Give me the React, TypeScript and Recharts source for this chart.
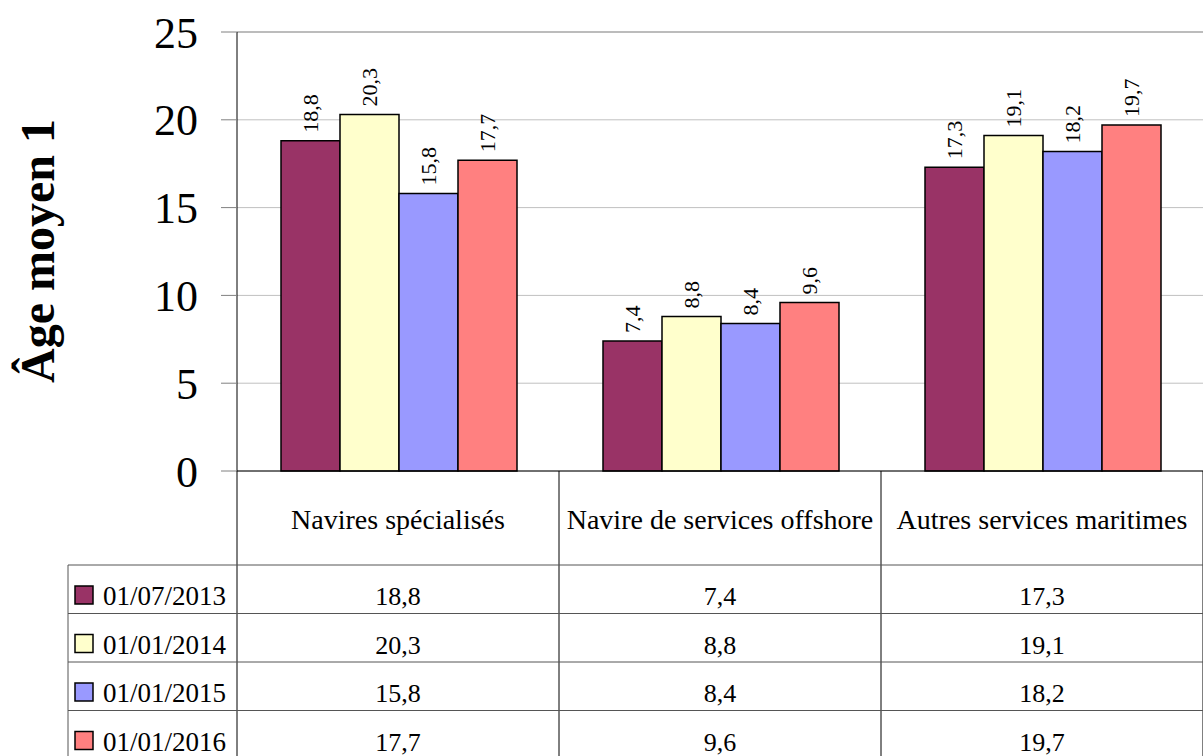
import { BarChart, Bar, XAxis, YAxis, CartesianGrid, ReferenceLine } from "recharts";

const categories = ["Navires spécialisés", "Navire de services offshore", "Autres services maritimes"];
const seriesNames = ["01/07/2013", "01/01/2014", "01/01/2015", "01/01/2016"];
const values2013 = [18.8, 7.4, 17.3];
const values2014 = [20.3, 8.8, 19.1];
const values2015 = [15.8, 8.4, 18.2];
const values2016 = [17.7, 9.6, 19.7];
const yTicks = [0, 5, 10, 15, 20, 25];
const yTitle = "Âge moyen 1";

const seriesValues = [values2013, values2014, values2015, values2016];
const colors = ["#993366", "#FFFFCC", "#9999FF", "#FF8080"];
const keys = ["s0", "s1", "s2", "s3"];

const data = categories.map((name, i) => ({
  name,
  s0: values2013[i],
  s1: values2014[i],
  s2: values2015[i],
  s3: values2016[i],
}));

const SERIF = "'Liberation Serif', 'Times New Roman', serif";
const fmt = (v: number) => v.toFixed(1).replace(".", ",");

// table layout under the plot (x axis band = 322px)
const W = 1203;
const H = 756;
const AXIS_Y = 471;
const HALF = 161;
const HEADER_BOTTOM = 565;
const ROW_H = 48.5;
const LEGEND_LEFT = 68;

function renderBarLabel(props: any) {
  const { x, y, width, value } = props;
  const cx = x + width / 2;
  const ty = y - 8;
  return (
    <text
      x={cx}
      y={ty}
      transform={`rotate(-90 ${cx} ${ty})`}
      textAnchor="start"
      dominantBaseline="central"
      fontFamily={SERIF}
      fontSize={22}
      fill="#000"
    >
      {fmt(value)}
    </text>
  );
}

function TableTick(props: any) {
  const { x, payload } = props;
  const idx = categories.indexOf(payload.value);
  const left = x - HALF;
  const right = x + HALF;
  return (
    <g>
      {/* column borders */}
      {idx === 0 && <line x1={left} y1={AXIS_Y} x2={left} y2={H + 10} stroke="#000" />}
      <line x1={right} y1={AXIS_Y} x2={right} y2={H + 10} stroke="#000" />
      <text x={x} y={529} textAnchor="middle" fontFamily={SERIF} fontSize={28} fill="#000">
        {payload.value}
      </text>
      {seriesValues.map((vals, r) => {
        const top = HEADER_BOTTOM + r * ROW_H;
        return (
          <g key={r}>
            <line x1={left} y1={top} x2={right} y2={top} stroke="#555" />
            <text x={x} y={top + 40} textAnchor="middle" fontFamily={SERIF} fontSize={26} fill="#000">
              {fmt(vals[idx])}
            </text>
          </g>
        );
      })}
      {/* legend column */}
      {idx === 0 && (
        <g>
          <line x1={LEGEND_LEFT} y1={HEADER_BOTTOM} x2={LEGEND_LEFT} y2={H + 10} stroke="#555" />
          {seriesNames.map((s, r) => {
            const top = HEADER_BOTTOM + r * ROW_H;
            return (
              <g key={s}>
                <line x1={LEGEND_LEFT} y1={top} x2={left} y2={top} stroke="#555" />
                <rect x={75} y={top + 21} width={18} height={18} fill={colors[r]} stroke="#000" strokeWidth={1.5} />
                <text x={103} y={top + 40} fontFamily={SERIF} fontSize={27} fill="#000">
                  {s}
                </text>
              </g>
            );
          })}
        </g>
      )}
    </g>
  );
}

function renderTitle() {
  const cx = 54;
  const cy = 251;
  return (
    <text
      x={cx}
      y={cy}
      transform={`rotate(-90 ${cx} ${cy})`}
      textAnchor="middle"
      fontFamily={SERIF}
      fontWeight="bold"
      fontSize={48}
      fill="#000"
    >
      {yTitle}
    </text>
  );
}

export default function App() {
  return (
    <div style={{ position: "absolute", left: 0, top: 0, width: W, height: H, background: "#fff" }}>
      <BarChart
        width={W}
        height={H}
        data={data}
        margin={{ top: 32, right: 0, left: 0, bottom: 0 }}
        barCategoryGap={44}
        barGap={0}
      >
        <CartesianGrid vertical={false} stroke="#c0c0c0" />
        <ReferenceLine y={25} stroke="#999" />
        <XAxis
          dataKey="name"
          height={H - AXIS_Y}
          interval={0}
          tickLine={false}
          axisLine={{ stroke: "#000" }}
          tick={<TableTick />}
        />
        <YAxis
          width={237}
          domain={[0, 25]}
          ticks={yTicks}
          interval={0}
          tickSize={16}
          tickMargin={23}
          tickLine={{ stroke: "#808080" }}
          axisLine={{ stroke: "#000" }}
          tick={{ fontFamily: SERIF, fontSize: 44, fill: "#000" }}
          label={renderTitle}
        />
        {keys.map((k, i) => (
          <Bar
            key={k}
            dataKey={k}
            name={seriesNames[i]}
            fill={colors[i]}
            stroke="#000"
            strokeWidth={1.5}
            isAnimationActive={false}
            label={renderBarLabel}
          />
        ))}
      </BarChart>
    </div>
  );
}
